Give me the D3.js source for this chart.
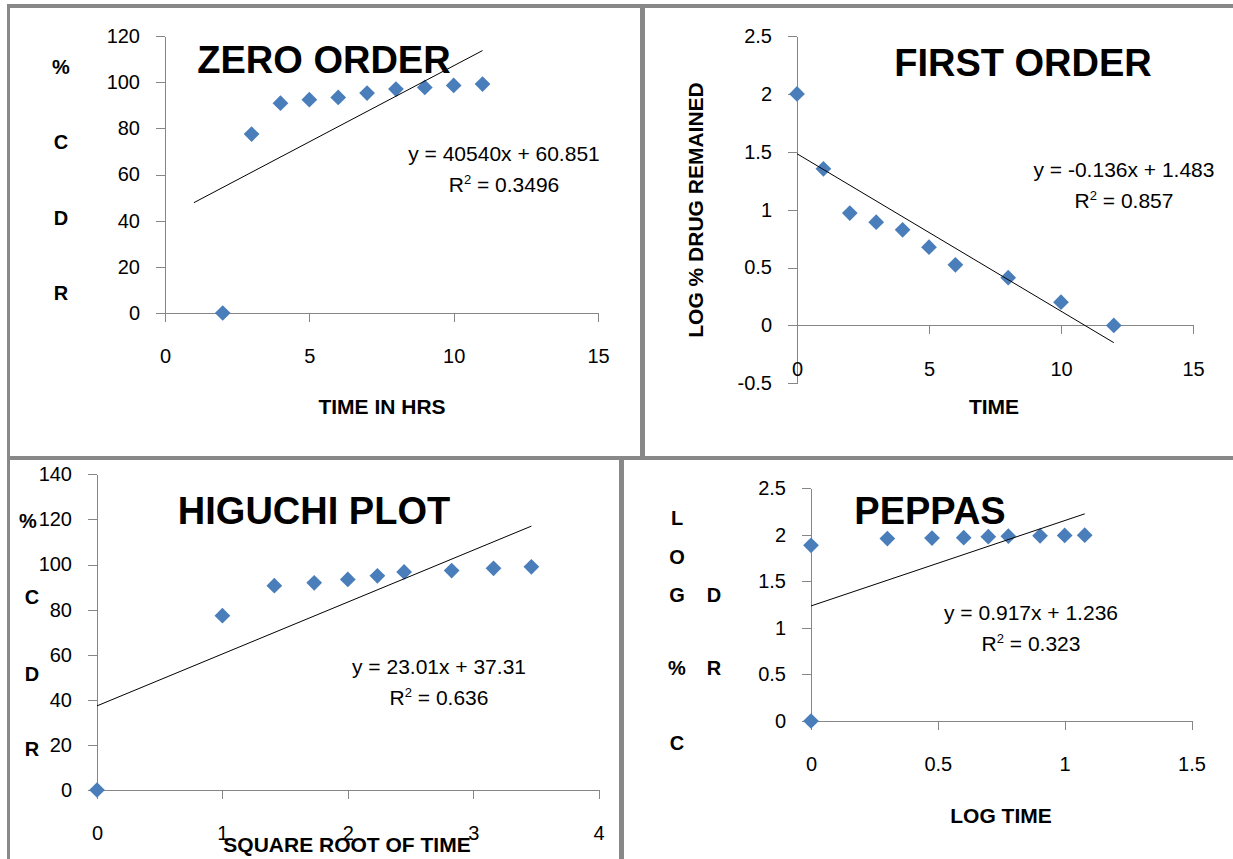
<!DOCTYPE html>
<html>
<head>
<meta charset="utf-8">
<script src="https://cdn.jsdelivr.net/npm/d3@7"></script>
<style>
  body { margin: 0; background: #fff; }
  text { font-family: "Liberation Sans", Arial, sans-serif; }
</style>
</head>
<body>
<script>
// canvas size
var width = 1233
var height = 859

// ZERO ORDER : time (hrs) vs % CDR
const zeroTime = [2, 3, 4, 5, 6, 7, 8, 9, 10, 11]
const zeroCDR = [0, 77.5, 90.9, 92.4, 93.4, 95.3, 97.0, 97.7, 98.6, 99.2]
const zeroFit = [6.59, 41.2]        // slope, intercept of the drawn trendline
const zeroFitRange = [1, 11]
const zeroXTicks = [0, 5, 10, 15]
const zeroYTicks = [0, 20, 40, 60, 80, 100, 120]

// FIRST ORDER : time vs log % drug remained
const firstTime = [0, 1, 2, 3, 4, 5, 6, 8, 10, 12]
const firstLogRem = [2.0, 1.353, 0.97, 0.892, 0.826, 0.676, 0.524, 0.412, 0.201, 0]
const firstFit = [-0.136, 1.483]
const firstFitRange = [0, 12]
const firstXTicks = [0, 5, 10, 15]
const firstYTicks = [-0.5, 0, 0.5, 1, 1.5, 2, 2.5]

// HIGUCHI PLOT : square root of time vs % CDR
const higuchiRootT = [0, 1, 1.414, 1.732, 2, 2.236, 2.449, 2.828, 3.162, 3.464]
const higuchiCDR = [0, 77.3, 90.6, 91.9, 93.4, 95.0, 96.7, 97.3, 98.3, 99.0]
const higuchiFit = [23.01, 37.31]
const higuchiFitRange = [0, 3.464]
const higuchiXTicks = [0, 1, 2, 3, 4]
const higuchiYTicks = [0, 20, 40, 60, 80, 100, 120, 140]

// PEPPAS : log time vs log % CDR
const peppasLogT = [0, 0, 0.301, 0.477, 0.602, 0.699, 0.778, 0.903, 1.0, 1.079]
const peppasLogCDR = [0, 1.888, 1.96, 1.965, 1.97, 1.98, 1.985, 1.99, 1.993, 1.996]
const peppasFit = [0.917, 1.236]
const peppasFitRange = [0, 1.079]
const peppasXTicks = [0, 0.5, 1, 1.5]
const peppasYTicks = [0, 0.5, 1, 1.5, 2, 2.5]

const AXIS_COLOR = '#868686'
const MARKER_COLOR = '#4A7EBB'
const FRAME_COLOR = '#888888'

const svg = d3.select('body').append('svg')
  .attr('width', width)
  .attr('height', height)

// gray frames around the four pictures
var frames = [
  [7, 4, 1226, 4],     // top
  [7, 4, 3, 855],      // left
  [7, 456, 1226, 4],   // middle
  [640, 4, 5, 456],    // divider top
  [619, 456, 5, 403]   // divider bottom
]
svg.selectAll('rect.frame')
  .data(frames)
  .enter()
  .append('rect')
  .attr('class', 'frame')
  .attr('x', d => d[0])
  .attr('y', d => d[1])
  .attr('width', d => d[2])
  .attr('height', d => d[3])
  .style('fill', FRAME_COLOR)

function drawPanel(cfg) {
  var x = d3.scaleLinear().domain(cfg.xDomain).range(cfg.xRange)
  var y = d3.scaleLinear().domain(cfg.yDomain).range(cfg.yRange)
  var g = svg.append('g')

  // vertical axis
  var ya = g.append('g')
    .attr('transform', 'translate(' + cfg.xRange[0] + ',0)')
    .call(d3.axisLeft(y).tickValues(cfg.yTicks).tickSizeInner(9).tickSizeOuter(0)
      .tickPadding(16).tickFormat(d => String(d)))

  // horizontal axis, crossing at y = 0
  var xa = g.append('g')
    .attr('transform', 'translate(0,' + y(0) + ')')
    .call(d3.axisBottom(x).tickValues(cfg.xTicks).tickSizeInner(9).tickSizeOuter(0)
      .tickPadding(27).tickFormat(d => String(d)))

  g.selectAll('.domain, .tick line')
    .style('stroke', AXIS_COLOR)
    .style('shape-rendering', 'crispEdges')
  g.selectAll('.tick text')
    .style('fill', '#000')
    .style('font-size', '20px')
    .style('font-family', '"Liberation Sans", Arial, sans-serif')

  // markers
  g.selectAll('path.pt')
    .data(d3.zip(cfg.xs, cfg.ys))
    .enter()
    .append('path')
    .attr('class', 'pt')
    .attr('d', d3.symbol(d3.symbolSquare, 124))
    .attr('transform', d => 'translate(' + x(d[0]) + ',' + y(d[1]) + ') rotate(45)')
    .style('fill', MARKER_COLOR)

  // linear trendline
  var fitLine = d3.line()
    .x(d => x(d))
    .y(d => y(cfg.fit[0] * d + cfg.fit[1]))
  g.append('path')
    .datum(cfg.fitRange)
    .attr('d', fitLine)
    .style('fill', 'none')
    .style('stroke', '#000')
    .style('stroke-width', 1)

  // equation and R²
  g.append('text')
    .attr('x', cfg.eq[0])
    .attr('y', cfg.eq[1])
    .attr('text-anchor', 'middle')
    .style('font-size', '21px')
    .text(cfg.eqText)
  var r2 = g.append('text')
    .attr('x', cfg.eq[0])
    .attr('y', cfg.eq[1] + 31)
    .attr('text-anchor', 'middle')
    .style('font-size', '21px')
  r2.append('tspan').text('R')
  r2.append('tspan').attr('dy', -8).style('font-size', '13px').text('2')
  r2.append('tspan').attr('dy', 8).text(' = ' + cfg.r2)

  // axis titles
  g.append('text')
    .attr('x', cfg.xTitle[0])
    .attr('y', cfg.xTitle[1])
    .attr('text-anchor', 'middle')
    .style('font-size', '21px')
    .style('font-weight', 'bold')
    .text(cfg.xTitleText)

  if (cfg.yTitleRotated) {
    g.append('text')
      .attr('transform', 'translate(' + cfg.yTitleRotated[0] + ',' + cfg.yTitleRotated[1] + ') rotate(-90)')
      .attr('text-anchor', 'middle')
      .style('font-size', '21px')
      .style('font-weight', 'bold')
      .text(cfg.yTitleText)
  }
  if (cfg.yLetters) {
    g.selectAll('text.yl')
      .data(cfg.yLetters)
      .enter()
      .append('text')
      .attr('class', 'yl')
      .attr('x', d => d[1])
      .attr('y', d => d[2])
      .attr('text-anchor', 'middle')
      .style('font-size', '20px')
      .style('font-weight', 'bold')
      .text(d => d[0])
  }

  // big title
  g.append('text')
    .attr('x', cfg.title[0])
    .attr('y', cfg.title[1])
    .attr('text-anchor', 'middle')
    .style('font-size', '38px')
    .style('font-weight', 'bold')
    .text(cfg.titleText)
}

drawPanel({
  xDomain: [0, 15], xRange: [165, 598],
  yDomain: [0, 120], yRange: [313, 36],
  xTicks: zeroXTicks, yTicks: zeroYTicks,
  xs: zeroTime, ys: zeroCDR,
  fit: zeroFit, fitRange: zeroFitRange,
  eq: [504, 161], eqText: 'y = 40540x + 60.851', r2: '0.3496',
  xTitle: [382, 414], xTitleText: 'TIME IN HRS',
  yLetters: [['%', 61, 74], ['C', 61, 149], ['D', 61, 225], ['R', 61, 300]],
  title: [324, 73], titleText: 'ZERO ORDER'
})

drawPanel({
  xDomain: [0, 15], xRange: [797, 1193],
  yDomain: [-0.5, 2.5], yRange: [383.3, 36],
  xTicks: firstXTicks, yTicks: firstYTicks,
  xs: firstTime, ys: firstLogRem,
  fit: firstFit, fitRange: firstFitRange,
  eq: [1124, 177], eqText: 'y = -0.136x + 1.483', r2: '0.857',
  xTitle: [994, 414], xTitleText: 'TIME',
  yTitleRotated: [703, 210], yTitleText: 'LOG % DRUG REMAINED',
  title: [1023, 76], titleText: 'FIRST ORDER'
})

drawPanel({
  xDomain: [0, 4], xRange: [97, 598.6],
  yDomain: [0, 140], yRange: [790, 474.3],
  xTicks: higuchiXTicks, yTicks: higuchiYTicks,
  xs: higuchiRootT, ys: higuchiCDR,
  fit: higuchiFit, fitRange: higuchiFitRange,
  eq: [439, 674], eqText: 'y = 23.01x + 37.31', r2: '0.636',
  xTitle: [347, 852], xTitleText: 'SQUARE ROOT OF TIME',
  yLetters: [['%', 28, 528], ['C', 32, 604], ['D', 32, 681], ['R', 32, 756]],
  title: [314, 524], titleText: 'HIGUCHI PLOT'
})

drawPanel({
  xDomain: [0, 1.5], xRange: [811, 1191.5],
  yDomain: [0, 2.5], yRange: [721, 488.3],
  xTicks: peppasXTicks, yTicks: peppasYTicks,
  xs: peppasLogT, ys: peppasLogCDR,
  fit: peppasFit, fitRange: peppasFitRange,
  eq: [1031, 620], eqText: 'y = 0.917x + 1.236', r2: '0.323',
  xTitle: [1001, 823], xTitleText: 'LOG TIME',
  yLetters: [['L', 677, 525], ['O', 677, 564], ['G', 677, 602], ['%', 677, 675], ['C', 677, 750],
             ['D', 714, 602], ['R', 714, 675]],
  title: [930, 524], titleText: 'PEPPAS'
})
</script>
</body>
</html>
